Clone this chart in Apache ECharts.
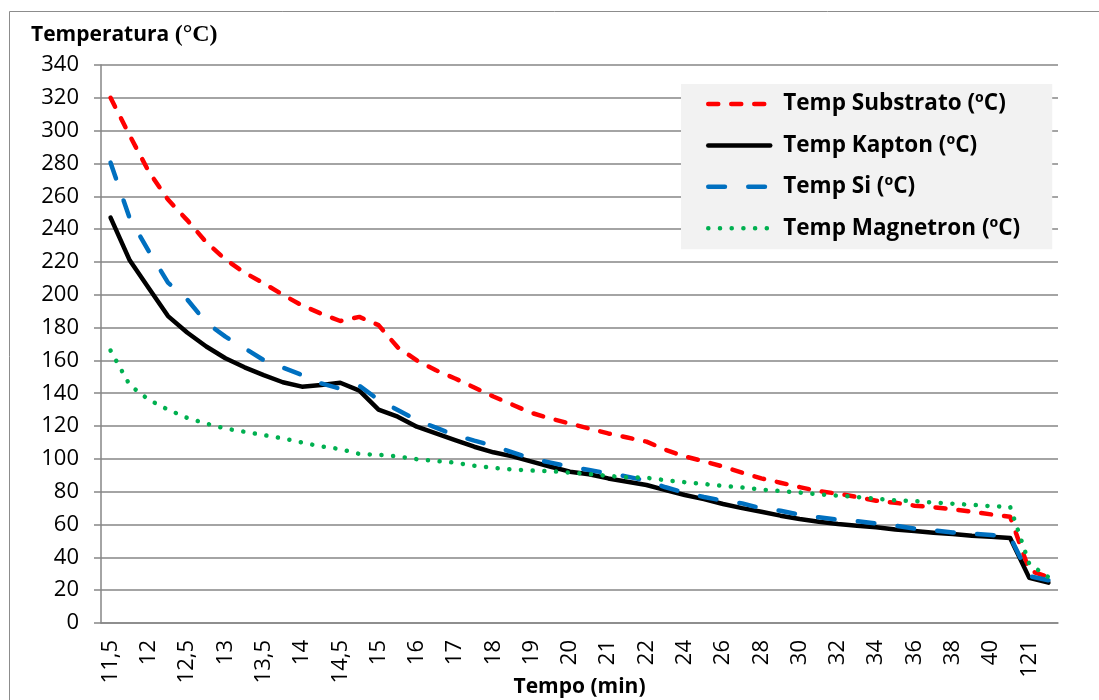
<!DOCTYPE html>
<html><head><meta charset="utf-8">
<script src="https://cdn.jsdelivr.net/npm/echarts@6/dist/echarts.min.js"></script>
<style>html,body{margin:0;padding:0;background:#fff}#c{width:1099px;height:700px}</style>
</head><body><div id="c"></div>
<script>
const categories = ["11,5","11,75","12","12,25","12,5","12,75","13","13,25","13,5","13,75",
  "14","14,25","14,5","14,75","15","15,5","16","16,5","17","17,5",
  "18","18,5","19","19,5","20","20,5","21","21,5","22","23",
  "24","25","26","27","28","29","30","31","32","33",
  "34","35","36","37","38","39","40","41","121","122"];
const tempSubstrato = [320,297,275,258,245.5,232,221.5,213.5,207,200,
  193.5,188.5,184,186.5,181.5,168,160,154,149,143.5,
  138,133,128,124.5,121.5,118.5,115.5,113,110.5,105.5,
  101.5,98.5,95.3,91.6,88.1,85.5,82.8,80.3,78.8,76.8,
  74.5,73.3,71.5,70.5,69.3,67.8,66.2,64.8,32,28];
const tempKapton = [247,221,204,187,177,168.5,161.3,155.8,151,146.7,
  144,145,146.4,141.6,130,125.7,119.6,115.6,111.5,107.4,
  104,101.5,98.3,95.2,92.2,90.6,88.1,86.1,84.1,81,
  78,75.5,72.5,70,67.8,65.4,63.4,61.7,60.3,59.3,
  58.3,57,56,55,54.2,53.2,52.6,51.8,27.5,24.6];
const tempSi = [280.5,246.6,226.5,207.4,197.2,183,174.5,167.4,160.2,155.6,
  151.1,146,142.8,144.5,136,129.8,123.7,119,114.5,111.1,
  108,104,100,97.7,95.2,93.2,91.2,89.2,86.7,82.7,
  79.4,76.8,74.5,72.9,69.9,68.4,66,64.4,62.9,62,
  60.7,59.3,57.5,56.5,55.2,54.4,53.6,52.6,28.5,26];
const tempMagnetron = [166,145,136,130,125,121.5,118.5,116.5,114.5,112.5,
  110,107.6,106,103,102.5,101.5,99.8,98.7,97.7,95.8,
  94.5,93.5,92.9,92.5,91.6,90.8,89.6,88.8,88.5,87,
  85.8,84.7,83.5,82.6,81.3,80.4,79.5,78.4,77.6,76.8,
  75.7,74.7,74.3,73.4,72.7,72,71.2,70.8,36,28];
const seriesNames = ["Temp Substrato (ºC)","Temp Kapton (ºC)","Temp Si (ºC)","Temp Magnetron (ºC)"];

const FONT = 'Open Sans';
const GRID = '#868686';
const chart = echarts.init(document.getElementById('c'), null, {renderer:'canvas'});
function mk(name, data, color, type){
  return {name, type:'line', data, symbol:'none', smooth:false,
    itemStyle:{color},
    lineStyle:{color, width:4.5, type, cap:'round', join:'round'}};
}
chart.setOption({
  animation:false,
  backgroundColor:'#ffffff',
  graphic:[{type:'rect', silent:true, z:-1, shape:{x:9.5,y:11.5,width:1200,height:1000},
    style:{fill:null, stroke:'#8c8c8c', lineWidth:1}}],
  title:{text:'{a|Temperatura }{b|(°C)}', left:31, top:23, padding:0,
    textStyle:{rich:{
      a:{fontFamily:FONT,fontWeight:'bold',fontSize:21,color:'#000'},
      b:{fontFamily:'Liberation Serif',fontSize:24,color:'#000'}}}},
  legend:{orient:'vertical', left:681, top:84, backgroundColor:'#f2f2f2',
    padding:[8,32,9,25], itemWidth:62, itemHeight:14, itemGap:17.4,
    data:seriesNames,
    lineStyle:{width:4.5},
    itemStyle:{color:'rgba(0,0,0,0)', borderWidth:0, opacity:0},
    textStyle:{fontFamily:FONT,fontWeight:'bold',fontSize:22.5,color:'#000',lineHeight:24,padding:[0,0,0,8]}},
  grid:{left:101,right:41,top:65,bottom:77,containLabel:false,outerBoundsMode:'none'},
  xAxis:{type:'category', data:categories, boundaryGap:true,
    name:'Tempo (min)', nameLocation:'middle', nameGap:54, nameMoveOverlap:false,
    nameTextStyle:{fontFamily:FONT,fontWeight:'bold',fontSize:21,color:'#000'},
    axisLine:{lineStyle:{color:GRID,width:1.5}},
    axisTick:{interval:0,length:7,lineStyle:{color:GRID,width:1.5}},
    axisLabel:{interval:1, rotate:90, margin:17, fontFamily:FONT,fontSize:22,color:'#000'},
    splitLine:{show:false}},
  yAxis:{type:'value', min:0, max:340, interval:20,
    axisLine:{show:true,lineStyle:{color:GRID,width:1.5}},
    axisTick:{show:true,length:7,lineStyle:{color:GRID,width:1.5}},
    axisLabel:{margin:22,fontFamily:FONT,fontSize:22,color:'#000'},
    splitLine:{lineStyle:{color:GRID,width:1.5}}},
  series:[
    mk(seriesNames[0], tempSubstrato, '#ff0000', [10,13]),
    mk(seriesNames[1], tempKapton, '#000000', 'solid'),
    mk(seriesNames[2], tempSi, '#0070c0', [16.7,23.3]),
    mk(seriesNames[3], tempMagnetron, '#00b050', [0.1,11.6])
  ]
});
</script></body></html>
